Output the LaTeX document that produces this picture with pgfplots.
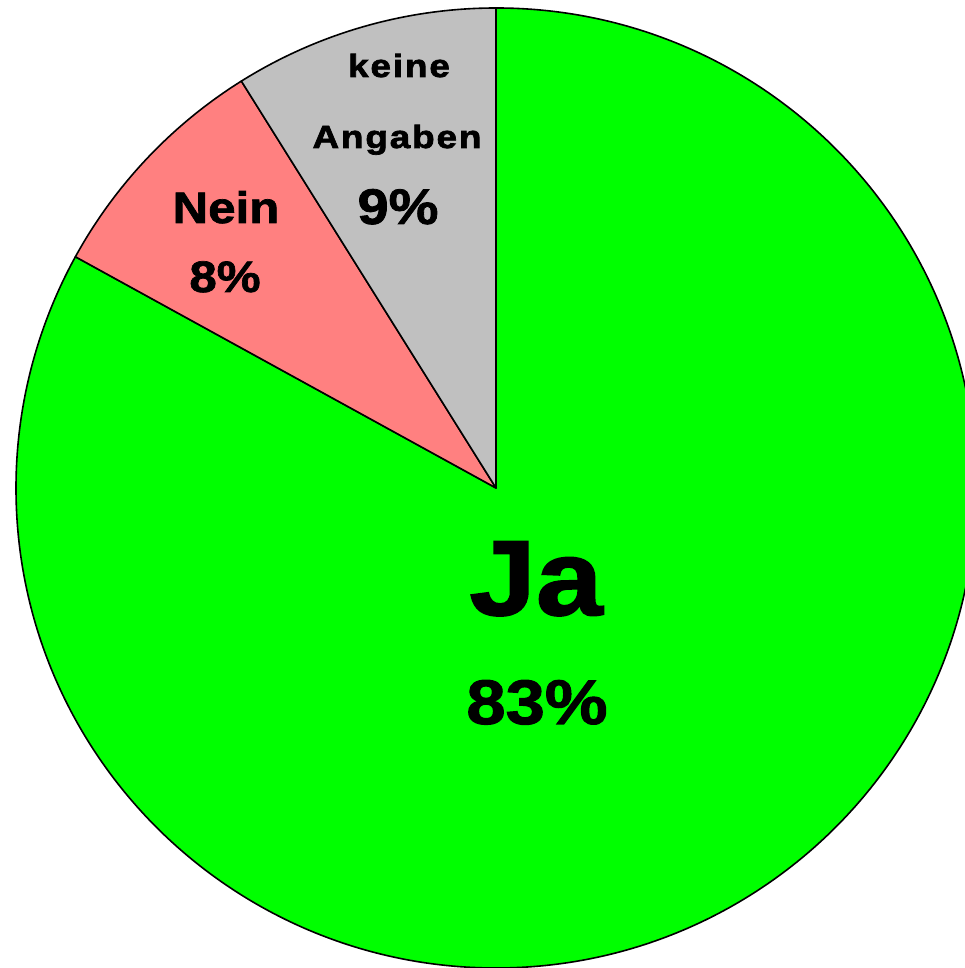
\documentclass[border=0pt]{standalone}
\usepackage{pgfplots}
\usepackage{pgfplotstable}
\pgfplotsset{compat=1.18}
\usepackage{fontspec}
\setmainfont{Liberation Sans}[FakeBold=1.6,FakeStretch=1.12]
\newfontfamily\smallfont{Liberation Sans}[FakeBold=2.2,FakeStretch=1.15,LetterSpace=6]
\definecolor{jagreen}{HTML}{00FF00}
\definecolor{neinred}{HTML}{FF8080}
\definecolor{kagray}{HTML}{C0C0C0}
\pgfplotstableread{
label value
Ja 83.0
Nein 8.1
keine 8.9
}\piedata
\begin{document}
\begin{tikzpicture}
\pgfplotstablegetelem{0}{value}\of\piedata \let\vJa\pgfplotsretval
\pgfplotstablegetelem{1}{value}\of\piedata \let\vNein\pgfplotsretval
\pgfplotstablegetelem{2}{value}\of\piedata \let\vKa\pgfplotsretval
\pgfmathsetmacro\aA{90}
\pgfmathsetmacro\aB{\aA-3.6*\vJa}
\pgfmathsetmacro\aC{\aB-3.6*\vNein}
\pgfmathsetmacro\aD{\aC-3.6*\vKa}
\def\cx{496}\def\cy{480}\def\R{480}
\begin{axis}[
  width=965pt, height=968pt, scale only axis,
  xmin=0, xmax=965, ymin=0, ymax=968,
  hide axis, clip=false,
]
\filldraw[fill=jagreen, draw=black, line width=1.6pt, line join=round]
  (axis cs:\cx,\cy) -- (axis cs:{\cx+\R*cos(\aA)},{\cy+\R*sin(\aA)})
  arc[start angle=\aA, end angle=\aB, radius=480pt] -- cycle;
\filldraw[fill=neinred, draw=black, line width=1.6pt, line join=round]
  (axis cs:\cx,\cy) -- (axis cs:{\cx+\R*cos(\aB)},{\cy+\R*sin(\aB)})
  arc[start angle=\aB, end angle=\aC, radius=480pt] -- cycle;
\filldraw[fill=kagray, draw=black, line width=1.6pt, line join=round]
  (axis cs:\cx,\cy) -- (axis cs:{\cx+\R*cos(\aC)},{\cy+\R*sin(\aC)})
  arc[start angle=\aC, end angle=\aD, radius=480pt] -- cycle;
\node[anchor=base, inner sep=0pt, font=\smallfont\bfseries\fontsize{32}{36}\selectfont] at (axis cs:399,891) {keine};
\node[anchor=base, inner sep=0pt, font=\smallfont\bfseries\fontsize{32}{36}\selectfont] at (axis cs:397,820) {Angaben};
\node[anchor=base, inner sep=0pt, font=\bfseries\fontsize{50}{56}\selectfont] at (axis cs:398,744) {9\%};
\node[anchor=base, inner sep=0pt, font=\bfseries\fontsize{44}{50}\selectfont] at (axis cs:226,745) {Nein};
\node[anchor=base, inner sep=0pt, font=\bfseries\fontsize{44}{50}\selectfont] at (axis cs:225,676) {8\%};
\node[anchor=base, inner sep=0pt, font=\bfseries\fontsize{107}{120}\selectfont] at (axis cs:536,353) {Ja};
\node[anchor=base, inner sep=0pt, font=\bfseries\fontsize{63}{70}\selectfont] at (axis cs:537,244) {83\%};
\end{axis}
\pgfresetboundingbox
\useasboundingbox (current axis.south west) rectangle (current axis.north east);
\end{tikzpicture}
\end{document}
